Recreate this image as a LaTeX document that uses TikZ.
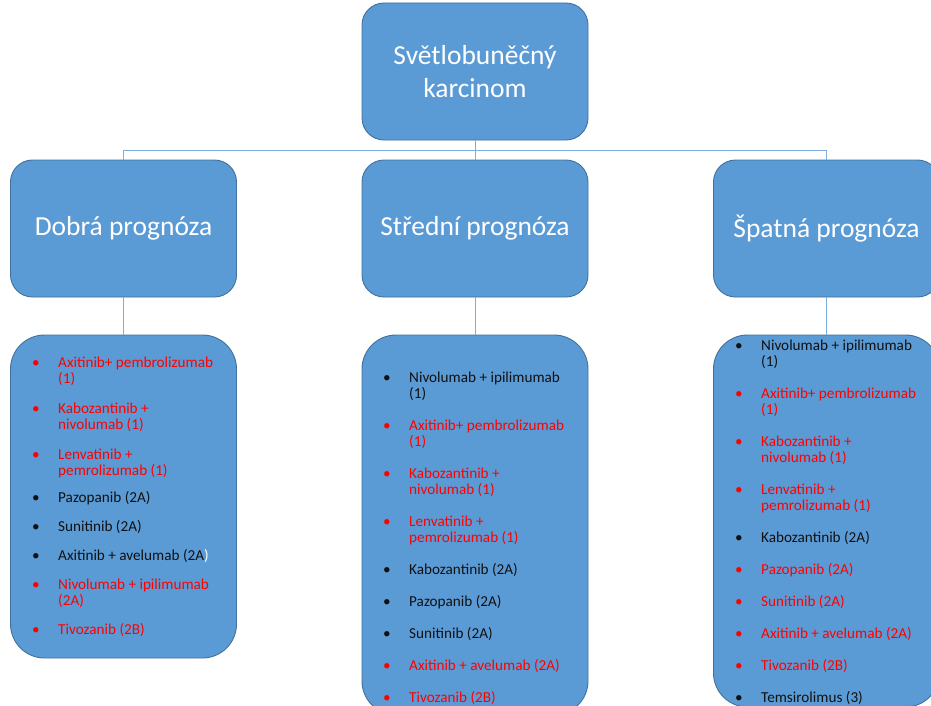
\documentclass[tikz,border=0pt]{standalone}
\usepackage{fontspec}
\setmainfont{Carlito}
\usepackage{xcolor}
\usepackage{tikz}
\usetikzlibrary{positioning}
\definecolor{boxblue}{HTML}{5B9BD5}
\definecolor{boxedge}{HTML}{41719C}
\definecolor{linkblue}{HTML}{7EADE0}
\definecolor{drugred}{HTML}{FF0000}
\definecolor{drugblack}{HTML}{111111}
% one bullet line of a list, and its continuation line
\newcommand{\lek}[2]{\makebox[26pt][l]{\color{#1}\textbullet}{\color{#1}#2}}
\newcommand{\dal}[2]{\hspace*{26pt}{\color{#1}#2}}
\tikzset{
  hlava/.style={rectangle, rounded corners=22pt, draw=boxedge, line width=0.9pt, fill=boxblue, text=white, align=center, minimum width=226pt, minimum height=137pt, inner sep=0pt, font=\fontsize{27.5}{33}\selectfont},
  seznam/.style={rectangle, rounded corners=34pt, draw=boxedge, line width=0.9pt, fill=boxblue, minimum width=226pt, inner sep=0pt},
  polozky/.style={anchor=north west, align=left, inner sep=0pt, font=\fontsize{15.2}{16}\selectfont},
  spoj/.style={draw=linkblue, line width=0.8pt}
}

\begin{document}
\begin{tikzpicture}[x=1pt, y=-1pt,
  sez1/.style={seznam, minimum height=323pt},
  sez2/.style={seznam, minimum height=380pt},
  sez3/.style={seznam, minimum height=372pt}
]
  \useasboundingbox (0,0) rectangle (931,706);

  \node[hlava] (karcinom) at (475,71.5) {Světlobuněčný\\karcinom};
  \node[hlava] (dobra) at (123.5,228.5) {Dobrá prognóza};
  \node[hlava] (stredni) at (475,228.5) {Střední prognóza};
  \node[hlava] (spatna) at (826.5,228.5) {Špatná prognóza};

  \node[sez1] (dobraList) at (123.5,496.5) {};
  \node[sez2] (stredniList) at (475,525) {};
  \node[sez3] (spatnaList) at (826.5,521) {};

  \draw[spoj] (karcinom.south) -- ++(0,10) coordinate (rozcesti);
  \draw[spoj] (rozcesti) -| (dobra.north);
  \draw[spoj] (rozcesti) -| (spatna.north);
  \draw[spoj] (rozcesti) -- (stredni.north);
  \draw[spoj] (dobra.south) -- (dobraList.north);
  \draw[spoj] (stredni.south) -- (stredniList.north);
  \draw[spoj] (spatna.south) -- (spatnaList.north);

  \node[polozky] (dobraItems) at (32,357) {%
    \lek{drugred}{Axitinib+ pembrolizumab}\\ \dal{drugred}{(1)}\\[14pt]
    \lek{drugred}{Kabozantinib +}\\ \dal{drugred}{nivolumab (1)}\\[14pt]
    \lek{drugred}{Lenvatinib +}\\ \dal{drugred}{pemrolizumab (1)}\\[11pt]
    \lek{drugblack}{Pazopanib (2A)}\\[13pt]
    \lek{drugblack}{Sunitinib (2A)}\\[13pt]
    \lek{drugblack}{Axitinib + avelumab (2A{\color{white})}}\\[13pt]
    \lek{drugred}{Nivolumab + ipilimumab}\\ \dal{drugred}{(2A)}\\[13pt]
    \lek{drugred}{Tivozanib (2B)}};

  \node[polozky] (stredniItems) at (383,372) {%
    \lek{drugblack}{Nivolumab + ipilimumab}\\ \dal{drugblack}{(1)}\\[16pt]
    \lek{drugred}{Axitinib+ pembrolizumab}\\ \dal{drugred}{(1)}\\[16pt]
    \lek{drugred}{Kabozantinib +}\\ \dal{drugred}{nivolumab (1)}\\[16pt]
    \lek{drugred}{Lenvatinib +}\\ \dal{drugred}{pemrolizumab (1)}\\[16pt]
    \lek{drugblack}{Kabozantinib (2A)}\\[16pt]
    \lek{drugblack}{Pazopanib (2A)}\\[16pt]
    \lek{drugblack}{Sunitinib (2A)}\\[16pt]
    \lek{drugred}{Axitinib + avelumab (2A)}\\[16pt]
    \lek{drugred}{Tivozanib (2B)}};

  \node[polozky] (spatnaItems) at (735,340) {%
    \lek{drugblack}{Nivolumab + ipilimumab}\\ \dal{drugblack}{(1)}\\[16pt]
    \lek{drugred}{Axitinib+ pembrolizumab}\\ \dal{drugred}{(1)}\\[16pt]
    \lek{drugred}{Kabozantinib +}\\ \dal{drugred}{nivolumab (1)}\\[16pt]
    \lek{drugred}{Lenvatinib +}\\ \dal{drugred}{pemrolizumab (1)}\\[16pt]
    \lek{drugblack}{Kabozantinib (2A)}\\[16pt]
    \lek{drugred}{Pazopanib (2A)}\\[16pt]
    \lek{drugred}{Sunitinib (2A)}\\[16pt]
    \lek{drugred}{Axitinib + avelumab (2A)}\\[16pt]
    \lek{drugred}{Tivozanib (2B)}\\[16pt]
    \lek{drugblack}{Temsirolimus (3)}};
\end{tikzpicture}
\end{document}
